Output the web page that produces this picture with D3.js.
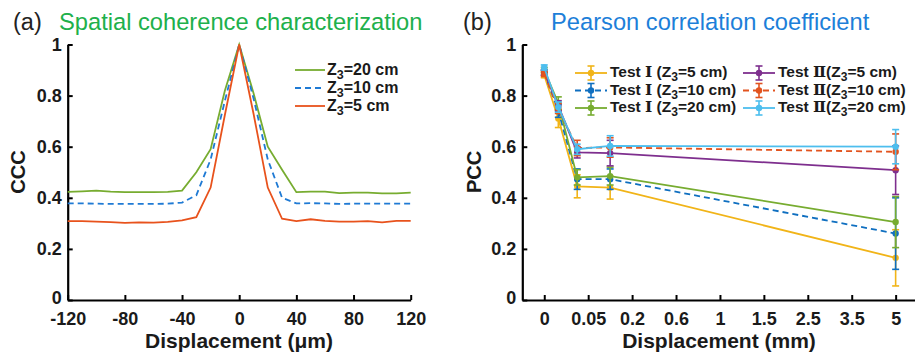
<!DOCTYPE html>
<html>
<head>
<meta charset="utf-8">
<script src="https://cdn.jsdelivr.net/npm/d3@7"></script>
<style>
  body { margin: 0; background: #fff; }
  svg { display: block; font-family: "Liberation Sans", Arial, sans-serif; }
</style>
</head>
<body>
<svg id="chart" width="915" height="358"></svg>
<script>
// (a) spatial coherence, displacement in um
const ccX = [-120,-110,-100,-90,-80,-70,-60,-50,-40,-30,-20,-10,0,10,20,30,40,50,60,70,80,90,100,110,120];
const cc20 = [0.423,0.425,0.428,0.424,0.422,0.422,0.422,0.423,0.428,0.50,0.59,0.82,1.0,0.81,0.60,0.51,0.422,0.424,0.424,0.418,0.42,0.42,0.417,0.417,0.42];
const cc10 = [0.378,0.378,0.377,0.376,0.376,0.376,0.376,0.377,0.381,0.41,0.55,0.78,1.0,0.79,0.55,0.40,0.378,0.379,0.378,0.376,0.377,0.377,0.377,0.377,0.377];
const cc5  = [0.309,0.309,0.307,0.305,0.302,0.304,0.303,0.306,0.312,0.324,0.44,0.725,1.0,0.73,0.44,0.318,0.309,0.316,0.310,0.307,0.307,0.309,0.304,0.31,0.31];
const ccTicks = [-120,-80,-40,0,40,80,120];

// (b) pearson correlation, x given as position along the category axis
const pccTickLabels = ["0","0.05","0.2","0.6","1","1.5","2.5","3.5","5"];
const pccPos = [0, 0.32, 0.75, 1.5, 8];
const t1z5  = [0.88, 0.71, 0.445, 0.44, 0.165];
const t1z5e = [0.01, 0.035, 0.045, 0.045, 0.11];
const t1z10  = [0.89, 0.74, 0.473, 0.473, 0.26];
const t1z10e = [0.01, 0.025, 0.04, 0.04, 0.14];
const t1z20  = [0.90, 0.77, 0.48, 0.485, 0.305];
const t1z20e = [0.01, 0.025, 0.03, 0.035, 0.10];
const t2z5  = [0.89, 0.76, 0.578, 0.575, 0.508];
const t2z5e = [0.01, 0.02, 0.022, 0.05, 0.095];
const t2z10  = [0.885, 0.75, 0.595, 0.597, 0.58];
const t2z10e = [0.01, 0.02, 0.03, 0.038, 0.07];
const t2z20  = [0.91, 0.755, 0.59, 0.603, 0.60];
const t2z20e = [0.01, 0.02, 0.02, 0.04, 0.067];

const svg = d3.select("#chart");

function styleAxis(g) {
  g.select(".domain").attr("stroke", "#000").attr("stroke-width", 2.2);
  g.selectAll(".tick line").attr("stroke", "#000").attr("stroke-width", 2);
  g.selectAll(".tick text").attr("fill", "#1a1a1a").style("font-size", "18px").style("font-weight", "bold");
}

function addSubText(g, x, y, parts, size) {
  // parts: [text, "sub"/"up", fontFamily]
  const t = g.append("text").attr("x", x).attr("y", y).attr("dy", "0.35em")
    .style("font-size", size + "px").style("font-weight", "bold").attr("fill", "#1a1a1a");
  parts.forEach(p => {
    const s = t.append("tspan").text(p[0]);
    if (p[1] === "sub") s.attr("dy", 4).style("font-size", (size * 0.78) + "px");
    if (p[1] === "up") s.attr("dy", -4);
    if (p[2]) s.style("font-family", p[2]);
  });
}

// ---------- panel (a) ----------
const xA = d3.scaleLinear().domain([-120, 120]).range([67.7, 410.7]);
const yA = d3.scaleLinear().domain([0, 1]).range([300, 44.5]);

svg.append("g").attr("transform", "translate(0,300)")
  .call(d3.axisBottom(xA).tickValues(ccTicks).tickFormat(d => String(d)).tickSizeInner(-5).tickSizeOuter(0).tickPadding(12))
  .call(styleAxis);
svg.append("g").attr("transform", "translate(67.7,0)")
  .call(d3.axisLeft(yA).tickValues([0,0.2,0.4,0.6,0.8,1]).tickFormat(d3.format("~g")).tickSizeInner(-5).tickSizeOuter(0).tickPadding(6))
  .call(styleAxis)
  .call(g => g.selectAll(".tick text").filter(d => d === 0).attr("dy", "0.2em"));

const lineA = d3.line().x((d, i) => xA(ccX[i])).y(d => yA(d));
const seriesA = [
  { vals: cc20, color: "#77ac30", dash: null, label: "20" },
  { vals: cc10, color: "#1f7ad4", dash: "6,4", label: "10" },
  { vals: cc5,  color: "#e8521c", dash: null, label: "5" }
];
seriesA.forEach(s => {
  svg.append("path").datum(s.vals).attr("d", lineA).attr("fill", "none")
    .attr("stroke", s.color).attr("stroke-width", 1.8).attr("stroke-dasharray", s.dash);
});

const legA = svg.append("g");
seriesA.forEach((s, i) => {
  const ly = 70 + i * 18;
  legA.append("line").attr("x1", 295).attr("x2", 325).attr("y1", ly).attr("y2", ly)
    .attr("stroke", s.color).attr("stroke-width", 1.8).attr("stroke-dasharray", s.dash);
  addSubText(legA, 327, ly - 1, [["Z"], ["3", "sub"], ["=" + s.label + " cm", "up"]], 16);
});

svg.append("text").attr("x", 13).attr("y", 30).style("font-size", "23.5px").attr("fill", "#222").text("(a)");
svg.append("text").attr("x", 59).attr("y", 30).style("font-size", "23.7px").attr("fill", "#20b04b")
  .text("Spatial coherence characterization");
svg.append("text").attr("transform", "translate(25,172) rotate(-90)").attr("text-anchor", "middle")
  .style("font-size", "20px").style("font-weight", "bold").attr("fill", "#1a1a1a").text("CCC");
svg.append("text").attr("x", 239).attr("y", 348).attr("text-anchor", "middle")
  .style("font-size", "21px").style("font-weight", "bold").attr("fill", "#1a1a1a").text("Displacement (μm)");

// ---------- panel (b) ----------
const xB = d3.scaleLinear().domain([-0.5, 8.5]).range([522.3, 917.6]);
const yB = d3.scaleLinear().domain([0, 1]).range([300, 44.5]);

svg.append("g").attr("transform", "translate(0,300)")
  .call(d3.axisBottom(xB).tickValues(d3.range(pccTickLabels.length)).tickFormat(i => pccTickLabels[i])
    .tickSizeInner(-5).tickSizeOuter(0).tickPadding(12))
  .call(styleAxis);
svg.append("g").attr("transform", "translate(522.3,0)")
  .call(d3.axisLeft(yB).tickValues([0,0.2,0.4,0.6,0.8,1]).tickFormat(d3.format("~g")).tickSizeInner(-5).tickSizeOuter(0).tickPadding(6))
  .call(styleAxis)
  .call(g => g.selectAll(".tick text").filter(d => d === 0).attr("dy", "0.2em"));

const seriesB = [
  { vals: t1z5,  err: t1z5e,  color: "#f1b418", dash: null,  num: "Ⅰ", z: "5" },
  { vals: t1z10, err: t1z10e, color: "#0f6fc0", dash: "6,4", num: "Ⅰ", z: "10" },
  { vals: t1z20, err: t1z20e, color: "#77ac30", dash: null,  num: "Ⅰ", z: "20" },
  { vals: t2z5,  err: t2z5e,  color: "#7e2f8e", dash: null,  num: "Ⅱ", z: "5" },
  { vals: t2z10, err: t2z10e, color: "#e2531e", dash: "6,4", num: "Ⅱ", z: "10" },
  { vals: t2z20, err: t2z20e, color: "#4dbeee", dash: null,  num: "Ⅱ", z: "20" }
];
const lineB = d3.line().x((d, i) => xB(pccPos[i])).y(d => yB(d));

function errBar(g, x, y1, y2, color) {
  g.append("line").attr("x1", x).attr("x2", x).attr("y1", y1).attr("y2", y2).attr("stroke", color).attr("stroke-width", 1.6);
  [y1, y2].forEach(yy => g.append("line").attr("x1", x - 3.5).attr("x2", x + 3.5).attr("y1", yy).attr("y2", yy)
    .attr("stroke", color).attr("stroke-width", 1.6));
}

seriesB.forEach(s => {
  const g = svg.append("g");
  g.append("path").datum(s.vals).attr("d", lineB).attr("fill", "none")
    .attr("stroke", s.color).attr("stroke-width", 1.8).attr("stroke-dasharray", s.dash);
  s.vals.forEach((v, i) => {
    errBar(g, xB(pccPos[i]), yB(v + s.err[i]), yB(v - s.err[i]), s.color);
    g.append("circle").attr("cx", xB(pccPos[i])).attr("cy", yB(v)).attr("r", 3.2).attr("fill", s.color);
  });
});

const legB = svg.append("g");
seriesB.forEach((s, i) => {
  const col = Math.floor(i / 3), row = i % 3;
  const lx = col === 0 ? 575 : 743;
  const ly = 73 + row * 17.5;
  legB.append("line").attr("x1", lx).attr("x2", lx + 32).attr("y1", ly).attr("y2", ly)
    .attr("stroke", s.color).attr("stroke-width", 1.8).attr("stroke-dasharray", s.dash);
  errBar(legB, lx + 16, ly - 7, ly + 7, s.color);
  legB.append("circle").attr("cx", lx + 16).attr("cy", ly).attr("r", 3.2).attr("fill", s.color);
  const gap = s.num === "Ⅰ" ? " (Z" : "(Z";
  addSubText(legB, lx + 35, ly - 1, [["Test "], [s.num, null, "'DejaVu Serif', serif"], [gap], ["3", "sub"], ["=" + s.z + " cm)", "up"]], 15.5);
});

svg.append("text").attr("x", 463).attr("y", 30).style("font-size", "23.5px").attr("fill", "#222").text("(b)");
svg.append("text").attr("x", 551).attr("y", 30).style("font-size", "23.7px").attr("fill", "#1d7fd9")
  .text("Pearson correlation coefficient");
svg.append("text").attr("transform", "translate(481,172) rotate(-90)").attr("text-anchor", "middle")
  .style("font-size", "20px").style("font-weight", "bold").attr("fill", "#1a1a1a").text("PCC");
svg.append("text").attr("x", 719).attr("y", 348).attr("text-anchor", "middle")
  .style("font-size", "21px").style("font-weight", "bold").attr("fill", "#1a1a1a").text("Displacement (mm)");
</script>
</body>
</html>
